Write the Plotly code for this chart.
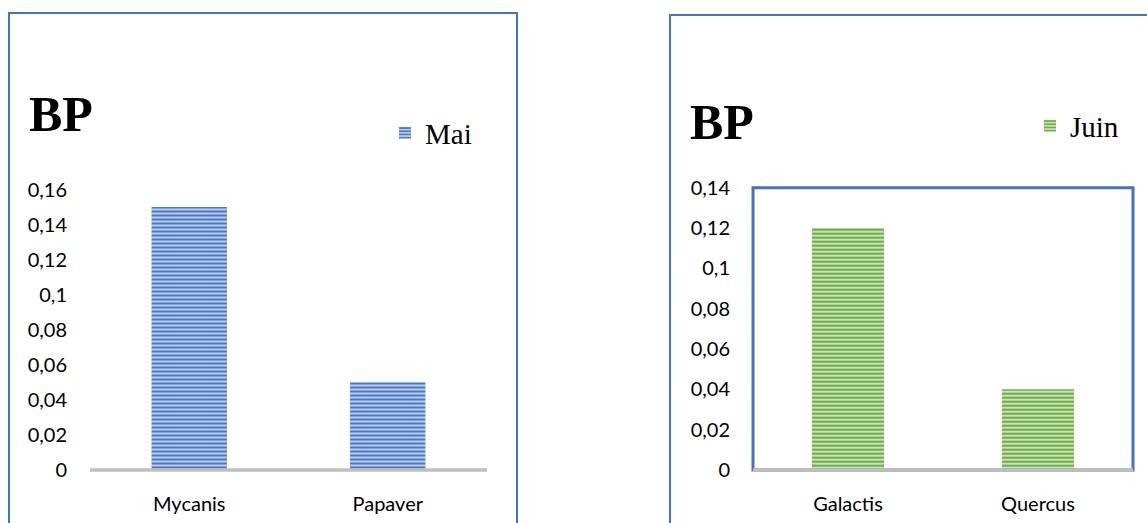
import plotly.graph_objects as go

# ---- data ----
mai_categories = ["Mycanis", "Papaver"]
mai_values = [0.15, 0.05]
juin_categories = ["Galactis", "Quercus"]
juin_values = [0.12, 0.04]
mai_ticks = [0, 0.02, 0.04, 0.06, 0.08, 0.10, 0.12, 0.14, 0.16]
mai_ticktext = ["0", "0,02", "0,04", "0,06", "0,08", "0,1", "0,12", "0,14", "0,16"]
juin_ticks = [0, 0.02, 0.04, 0.06, 0.08, 0.10, 0.12, 0.14]
juin_ticktext = ["0", "0,02", "0,04", "0,06", "0,08", "0,1", "0,12", "0,14"]

W, H = 1147, 523
def px(x):
    return x / W
def py(y):
    return 1 - y / H

BLUE = "#4472C4"
GRAY = "#BFBFBF"
tick_font = dict(family="Lato", size=20, color="#000000")

fig = go.Figure()
fig.add_trace(go.Bar(
    x=mai_categories, y=mai_values, name="Mai", xaxis="x", yaxis="y",
    marker=dict(color="#b4c7e7", line=dict(width=0),
                pattern=dict(shape="-", fgcolor="#4a77c6", bgcolor="#bccdec",
                             size=4, solidity=0.5)),
    legend="legend",
))
fig.add_trace(go.Bar(
    x=juin_categories, y=juin_values, name="Juin", xaxis="x2", yaxis="y2",
    marker=dict(color="#c5e0b4", line=dict(width=0),
                pattern=dict(shape="-", fgcolor="#70AD47", bgcolor="#c9e3b8",
                             size=4, solidity=0.5)),
    legend="legend2",
))

shapes = [
    # left panel frame
    dict(type="rect", xref="paper", yref="paper", x0=px(9), x1=px(517), y0=py(530), y1=py(13),
         line=dict(color=BLUE, width=2), layer="below"),
    # right panel frame
    dict(type="rect", xref="paper", yref="paper", x0=px(670), x1=px(1160), y0=py(530), y1=py(15),
         line=dict(color=BLUE, width=2), layer="below"),
    # right plot area border
    dict(type="rect", xref="x2 domain", yref="y2 domain", x0=0, x1=1, y0=0, y1=1,
         line=dict(color=BLUE, width=3), layer="above"),
    # gray axis lines
    dict(type="line", xref="x domain", yref="y domain", x0=0, x1=1, y0=0, y1=0,
         line=dict(color=GRAY, width=3.5), layer="above"),
    dict(type="line", xref="x2 domain", yref="y2 domain", x0=0, x1=1, y0=0, y1=0,
         line=dict(color=GRAY, width=3.5), layer="above"),
]

annotations = [
    dict(text="<b>BP</b>", xref="paper", yref="paper", x=px(27), y=py(114),
         xanchor="left", yanchor="middle", showarrow=False,
         font=dict(family="Liberation Serif", size=50, color="#000000")),
    dict(text="<b>BP</b>", xref="paper", yref="paper", x=px(688), y=py(122),
         xanchor="left", yanchor="middle", showarrow=False,
         font=dict(family="Liberation Serif", size=50, color="#000000")),
]

fig.update_layout(
    width=W, height=H,
    margin=dict(l=0, r=0, t=0, b=0),
    paper_bgcolor="white", plot_bgcolor="white",
    template="none",
    bargap=0.62,
    shapes=shapes,
    annotations=annotations,
    xaxis=dict(domain=[px(90), px(487)], showgrid=False, showline=False, zeroline=False,
               ticks="", tickfont=tick_font, ticklabelstandoff=20, automargin=False,
               fixedrange=True),
    yaxis=dict(domain=[py(470), py(189.5)], range=[0, 0.16], tickvals=mai_ticks,
               ticktext=mai_ticktext, showgrid=False, showline=False, zeroline=False,
               ticks="", tickfont=tick_font, ticklabelstandoff=22, automargin=False),
    xaxis2=dict(domain=[px(753), px(1133)], anchor="y2", showgrid=False, showline=False,
                zeroline=False, ticks="", tickfont=tick_font, ticklabelstandoff=20,
                automargin=False),
    yaxis2=dict(domain=[py(470), py(187.7)], anchor="x2", range=[0, 0.14],
                tickvals=juin_ticks, ticktext=juin_ticktext, showgrid=False,
                showline=False, zeroline=False, ticks="", tickfont=tick_font,
                ticklabelstandoff=22, automargin=False),
    legend=dict(x=px(385), y=py(133), xanchor="left", yanchor="middle",
                bgcolor="rgba(0,0,0,0)",
                font=dict(family="Liberation Serif", size=29, color="#000000")),
    legend2=dict(x=px(1030), y=py(126), xanchor="left", yanchor="middle",
                 bgcolor="rgba(0,0,0,0)",
                 font=dict(family="Liberation Serif", size=29, color="#000000")),
    showlegend=True,
)

fig.write_html("out.html")
